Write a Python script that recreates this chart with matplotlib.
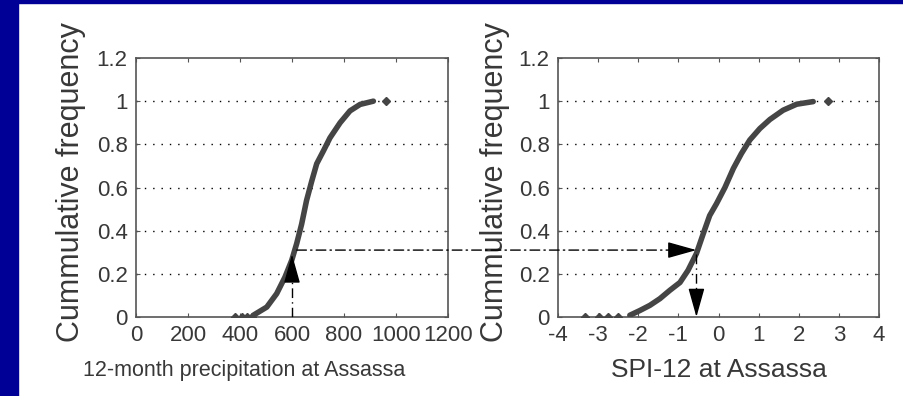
import matplotlib
matplotlib.use("Agg")
import matplotlib.pyplot as plt
from matplotlib.patches import Rectangle, ConnectionPatch
from matplotlib.ticker import FormatStrFormatter

plt.rcParams['font.family'] = ['Liberation Sans', 'DejaVu Sans']
plt.rcParams['axes.unicode_minus'] = False

# 12-month precipitation (mm) vs cumulative frequency
precip_tail_lo = [381, 406, 426, 445]
precip_curve = [451, 503, 541, 573, 599, 618, 637, 656, 676, 695, 721, 746, 785, 823, 862, 913]
precip_freq = [0.008, 0.046, 0.108, 0.185, 0.263, 0.34, 0.43, 0.54, 0.63, 0.71, 0.77, 0.83, 0.90, 0.955, 0.985, 1.0]
precip_tail_hi = [960]

# SPI-12 vs cumulative frequency
spi_tail_lo = [-3.33, -2.99, -2.76, -2.50]
spi_curve = [-2.21, -1.96, -1.71, -1.46, -1.21, -0.96, -0.76, -0.55, -0.38, -0.22, -0.05,
             0.16, 0.37, 0.57, 0.78, 1.03, 1.28, 1.61, 1.95, 2.36]
spi_freq = [0.008, 0.03, 0.054, 0.085, 0.124, 0.16, 0.216, 0.294, 0.386, 0.47, 0.525,
            0.60, 0.688, 0.757, 0.82, 0.873, 0.915, 0.958, 0.986, 0.998]
spi_tail_hi = [2.74]

# example reading: 600 mm -> F = 0.31 -> SPI = -0.55
p_read = 600
f_read = 0.31
spi_read = -0.55

curve_col = '#454545'
text_col = '#383838'
frame_col = '#555555'

fig = plt.figure(figsize=(9.04, 3.96), dpi=100)
fig.patch.set_facecolor('white')
fig.patches.append(Rectangle((0, 0), 18 / 904, 1, transform=fig.transFigure,
                             color='#000096', zorder=0))
fig.patches.append(Rectangle((0, 1 - 3 / 396), 1, 3 / 396, transform=fig.transFigure,
                             color='#000096', zorder=0))

ax1 = fig.add_axes([136 / 904, 1 - 317 / 396, 312 / 904, 259 / 396])
ax2 = fig.add_axes([558 / 904, 1 - 317 / 396, 321 / 904, 259 / 396])


def style(ax):
    for s in ax.spines.values():
        s.set_color(frame_col)
        s.set_linewidth(1.2)
    ax.tick_params(direction='in', top=True, right=True, length=3, width=0.8,
                   colors=frame_col, labelcolor=text_col, pad=6, labelsize=16)
    ax.set_ylim(0, 1.2)
    ax.set_yticks([0, 0.2, 0.4, 0.6, 0.8, 1.0, 1.2])
    ax.yaxis.set_major_formatter(FormatStrFormatter('%g'))
    for y in [0.2, 0.4, 0.6, 0.8, 1.0]:
        ax.axhline(y, color='k', linestyle=(0, (1, 5)), linewidth=1, zorder=1)
    ax.set_ylabel('Cummulative frequency', fontsize=22, color=text_col)


ax1.set_xlim(0, 1200)
ax1.set_xticks(range(0, 1201, 200))
style(ax1)
ax1.plot(precip_curve, precip_freq, color=curve_col, linewidth=4, solid_capstyle='round', zorder=3)
ax1.plot(precip_tail_lo, [0] * len(precip_tail_lo), 'D', color=curve_col, markersize=4, zorder=3)
ax1.plot(precip_tail_hi, [1.0], 'D', color=curve_col, markersize=4, zorder=3)
ax1.set_xlabel('12-month precipitation at Assassa', fontsize=15.5, color=text_col)
ax1.xaxis.set_label_coords(0.346, -0.165)
ax1.yaxis.set_label_coords(-0.16, 0.52)

ax2.set_xlim(-4, 4)
ax2.set_xticks(range(-4, 5))
style(ax2)
ax2.plot(spi_curve, spi_freq, color=curve_col, linewidth=4, solid_capstyle='round', zorder=3)
ax2.plot(spi_tail_lo, [0] * len(spi_tail_lo), 'D', color=curve_col, markersize=4, zorder=3)
ax2.plot(spi_tail_hi, [1.0], 'D', color=curve_col, markersize=4, zorder=3)
ax2.set_xlabel('SPI-12 at Assassa', fontsize=19, color=text_col)
ax2.xaxis.set_label_coords(0.5, -0.16)
ax2.yaxis.set_label_coords(-0.15, 0.52)

dashdot = (0, (7, 3, 1, 3))
head = dict(arrowstyle='-|>,head_length=1.0,head_width=0.28',
            color='k', lw=1, mutation_scale=18, shrinkA=0, shrinkB=0)

# vertical reading line on the precipitation plot, arrow up to the curve
ax1.plot([p_read, p_read], [0, 0.2], color='k', linestyle=dashdot, linewidth=1, zorder=4)
ax1.annotate('', xy=(p_read, 0.29), xytext=(p_read, 0.2), arrowprops=head, zorder=5)

# horizontal line across to the SPI plot
con = ConnectionPatch(xyA=(618, f_read), coordsA=ax1.transData,
                      xyB=(-1.15, f_read), coordsB=ax2.transData,
                      color='k', linestyle=dashdot, linewidth=1, zorder=4)
fig.add_artist(con)
ax2.annotate('', xy=(spi_read, f_read), xytext=(-1.15, f_read), arrowprops=head, zorder=5)

# vertical line down to the SPI axis
ax2.plot([spi_read, spi_read], [0.29, 0.12], color='k', linestyle=dashdot, linewidth=1, zorder=4)
ax2.annotate('', xy=(spi_read, 0.0), xytext=(spi_read, 0.12), arrowprops=head,
             zorder=5, annotation_clip=False)

fig.savefig('out.png', dpi=100)
